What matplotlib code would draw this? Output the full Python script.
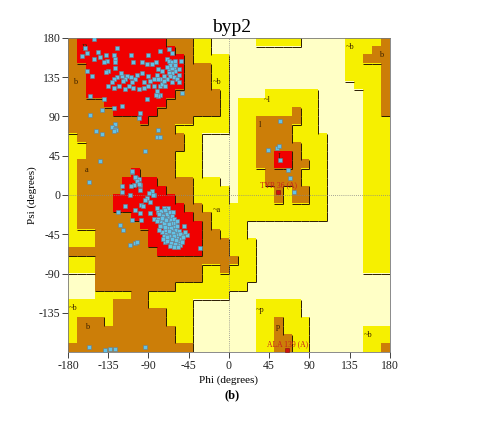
import numpy as np
import matplotlib
matplotlib.use("Agg")
import matplotlib.pyplot as plt
from matplotlib.colors import ListedColormap
from matplotlib.collections import LineCollection

# ---------------- data ----------------
# Ramachandran region map on a 10-degree grid.
# rows: psi from 180 (top) to -180 (bottom); cols: phi from -180 to 180
# '.' disallowed, 'y' generously allowed, 'b' additionally allowed, 'r' core
region_rows = [
    "brrrrrrrrrrbbbyy.." + "...yyyyy.....yyyyb",
    "brrrrrrrrrrrbbyy.." + ".............yyybb",
    "brrrrrrrrrrrrbyyyy" + ".............yybbb",
    "bbrrrrrrrrrrrbbbyy" + ".............yyyyb",
    "bbrrrrrrrrrrrbbbyy" + ".............yyyyb",
    "bbrrrrrrrrrrrbbbyy" + "..............yyyb",
    "bbrrrrrrrrrrbbbbby" + "....yyyyyy.....yyb",
    "bbbbrrrrrrrbbbbbby" + ".yyyyyyyyy.....yyb",
    "bbbbbrrrrrbbbbbbby" + ".yyyyyybyy.....yyb",
    "bbbbbbbbrbbbbbyyyy" + ".yybbbbbyy.....yyy",
    "bbbbbbbbbbbbyyyyyy" + ".yybbbbyyy.....yyy",
    "ybbbbbbbbbbbbyy..." + ".yybbbbyyyy....yyy",
    "yybbbbbbbbbbbyy..." + ".yybbbbbyyy....yyy",
    "yybbbbbbbbbbyyy..." + ".yybbrrbyyy....yyy",
    "ybbbbbbbbbbbyyy..." + ".yybbrrbbyy....yyy",
    "ybbbbbbrbbbbyyy..." + ".yyybbbbyyy....yyy",
    "ybbbbbrrrrbbbbyyy." + ".yyybbbbyyy....yyy",
    "ybbbbbrrrrrbbbyyyy" + ".yyyybybbyy....yyy",
    "ybbbbrrrrrrrbbyyyy" + ".yyyybybbyy....yyy",
    "ybbbbrrrrrrrrbbyyy" + "yyyyyyyyyyy....yyy",
    "ybbbbbbrrrrrrrbbyy" + "yyyyyyyyyyy....yyy",
    "ybbbbbbbrrrrrrrbyy" + "yy.............yyy",
    "yyybbbbbbrrrrrrbby" + "yy.............yyy",
    "yyybbbbbbrrrrrrbbb" + "yyy............yyy",
    "bbbbbbbbbbrrrrrbbb" + "yyy............yyy",
    "yyybbbbbbbbbbbbbbb" + "byy............yyy",
    "yyybbbbbbbbbbbbyyb" + "yyy............yyy",
    "...bbbbbbbbbbbbyyy" + "yyy...............",
    "...bbbbbbbbbyyyyyy" + "yy................",
    "...yyyybbyyyyyyyyy" + "..................",
    "yyyyybbbbyyyyy...." + "...yyyyy..........",
    "yyyyybbbbbbyyy...." + "...yyyyy..........",
    "ybbbybbbbbbyyy...." + "...yybyyy.........",
    "ybbbbbbbbbbbyy...." + "...yybyyy......yyy",
    "ybbbbbbbbbbbyy...." + "...yybbyy......yyy",
    "bbbbbbbbbbbbbb...." + "...yybbyy......yyb",
]
region_colors = ["#FFFFC6", "#F6F000", "#CC7E08", "#F00000"]
region_codes = ".ybr"

# residues (phi, psi) - beta region
beta_phi = [
    -151, -161, -159, -164, -151, -146, -144, -138, -136, -140, -129, -125, -127, -128, -110,
    -107, -97, -90, -77, -67, -64, -69, -67, -64, -60, -82, -92, -86, -62, -60, -56, -64, -67,
    -66, -62, -56, -58, -64, -69, -75, -79, -80, -77, -73, -84, -88, -90, -97, -95, -103, -105,
    -108, -114, -110, -116, -118, -120, -121, -125, -129, -131, -135, -138, -127, -135, -129,
    -123, -116, -112, -107, -101, -95, -90, -84, -80, -77, -75, -71, -77, -79, -82, -92, -120,
    -129, -140, -153, -159, -155, -56, -52, -54, -99, -142, -155, -127, -101, -79, -73, -67,
    -64, -66, -60, -69,
    -149, -142, -131, -128, -126, -129, -79, -81, -77, -94, -144, -157,
]
beta_psi = [
    179, 169, 163, 159, 156, 164, 158, 160, 154, 152, 161, 168, 156, 153, 161,
    152, 152, 161, 165, 167, 163, 156, 154, 152, 154, 152, 150, 150, 146, 142, 144, 140, 140,
    136, 135, 138, 133, 129, 133, 142, 144, 138, 133, 136, 133, 131, 136, 140, 129, 138, 133,
    129, 136, 135, 133, 131, 136, 140, 135, 133, 129, 142, 141, 146, 125, 123,
    125, 121, 125, 123, 121, 123, 125, 125, 119, 125, 127, 125, 115, 114, 115, 110, 102,
    100, 110, 136, 142, 114, 129, 117, 154, 94, 98, 92, 81, 88, 133, 131, 144,
    146, 149, 149, 147,
    73, 70, 78, 76, 75, 73, 75, 67, 66, 50, 39, 15,
]
# alpha region and others
alpha_phi = [
    -108, -104, -101, -99, -106, -120, -120, -111, -86, -84, -92, -94, -88, -98, -96, -116,
    -124, -105, -99, -88, -81, -79, -75, -84, -72, -68, -122, -118, -111, -105, -103, -109,
    -98, -71, -64, -58, -53, -47, -32, -109, -105, -103, -101, -110, -99, -89, -85,
    -76, -73, -70, -74, -78, -68, -72, -76, -66, -70, -74, -64, -68, -72, -62, -66, -70, -60,
    -64, -68, -58, -62, -56, -60, -65, -54, -57, -61, -59, -63, -67, -71, -75, -73, -69, -65,
    -69, -73, -77, -79, -67, -65, -63, -61, -59, -55, -57, -53, -71, -66, -64, -62, -60, -58,
    -56, -55, -67, -69, -64, -70, -75, -80, -78, -74, -66, -61, -52, -58, -63, -50, -49, -51,
    -157, -139, -133, -127, -94,
    57, 44, 54, 56, 57, 66, 68, 73,
]
alpha_psi = [
    26, 20, 18, 12, 12, 10, 4, 0, 5, 0, -4, -6, -8, -11, -13, -13,
    -19, -17, -21, -21, -15, -19, -23, -27, -17, -15, -34, -40, -57, -55, -54, -29,
    -29, -54, -57, -55, -52, -46, -61, 27, 21, 16, 13, 10, 6, 2, 0,
    -18, -15, -20, -24, -22, -25, -28, -30, -30, -33, -35, -35, -38, -40, -40, -42, -45, -44,
    -47, -50, -48, -51, -53, -56, -55, -50, -45, -36, -40, -44, -47, -37, -42, -47, -53, -28,
    -22, -32, -35, -27, -33, -38, -32, -47, -52, -57, -60, -46, -17, -20, -24, -28, -32, -36,
    -41, -45, -41, -48, -51, -29, -26, -30, -40, -51, -58, -60, -54, -30, -20, -35, -42, -48,
    -174, -178, -177, -177, -174,
    85, 52, 54, 56, 40, 29, 19, 3,
]

# labelled residues
res_names = ["TYR 36 (A)", "ALA 139 (A)"]
res_phi = [55, 65]
res_psi = [4, -178]
res_label_phi = [55, 66]
res_label_psi = [11, -171]

# region labels
reg_text = ["B", "b", "~b", "a", "A", "~a", "~b", "b", "~l", "l", "L", "~b", "b", "~p", "p", "~b"]
reg_phi = [-161, -172, -13, -159, -108, -13, -174, -159, 43, 35, 57, 135, 170, 35, 55, 156]
reg_psi = [168, 129, 129, 29, 9, -17, -130, -151, 109, 80, 44, 170, 160, -132, -151, -161]

ticks = [-180, -135, -90, -45, 0, 45, 90, 135, 180]
yticks = [-135, -90, -45, 0, 45, 90, 135, 180]

# ---------------- plot ----------------
serif = ["Liberation Serif", "DejaVu Serif"]
plt.rcParams["font.family"] = serif

fig = plt.figure(figsize=(4.85, 4.24), dpi=100)
ax = fig.add_axes([0.1402, 0.1698, 0.6639, 0.7406])

grid = np.array([[region_codes.index(ch) for ch in row] for row in region_rows])
ax.imshow(grid, cmap=ListedColormap(region_colors), vmin=-0.5, vmax=3.5,
          extent=(-180, 180, -180, 180), origin="upper", aspect="auto",
          interpolation="nearest", zorder=0)

# shadow lines on right/bottom edges of higher-level cells
segs = []
nr, nc = grid.shape
for r in range(nr):
    for c in range(nc):
        x0 = -180 + 10 * c
        ytop = 180 - 10 * r
        if c + 1 < nc and grid[r, c + 1] < grid[r, c]:
            segs.append([(x0 + 10, ytop - 10), (x0 + 10, ytop)])
        if r + 1 < nr and grid[r + 1, c] < grid[r, c]:
            segs.append([(x0, ytop - 10), (x0 + 10, ytop - 10)])
ax.add_collection(LineCollection(segs, colors="#2a1a00", linewidths=0.7, zorder=1))

ax.axhline(0, color="#888888", lw=0.6, ls=(0, (1, 1.5)), zorder=2)
ax.axvline(0, color="#888888", lw=0.6, ls=(0, (1, 1.5)), zorder=2)

for px, py in ((beta_phi, beta_psi), (alpha_phi, alpha_psi)):
    ax.scatter(px, py, marker="s", s=9, facecolor="#62C2E6",
               edgecolor="#6A7C8C", linewidths=0.4, zorder=4)

ax.scatter(res_phi, res_psi, marker="s", s=9, facecolor="#D01010",
           edgecolor="#801010", linewidths=0.4, zorder=5)
for n, x, y in zip(res_names, res_label_phi, res_label_psi):
    ax.text(x, y, n, fontsize=5.5, color="#C81E1E", ha="center", va="center", zorder=6)

for t, x, y in zip(reg_text, reg_phi, reg_psi):
    ax.text(x, y, t, fontsize=6, color="#3a2000", ha="center", va="center", zorder=3)

ax.set_xlim(-180, 180)
ax.set_ylim(-180, 180)
ax.set_xticks(ticks)
ax.set_yticks(yticks)
ax.set_xticklabels([str(t) for t in ticks])
ax.set_yticklabels([str(t) for t in yticks])
ax.tick_params(direction="out", length=4, width=0.6, labelsize=8.5, pad=1.5, colors="#222222")
for s in ax.spines.values():
    s.set_color("#777777")
    s.set_linewidth(0.6)

fig.text(0.478, 0.936, "byp2", fontsize=14, ha="center", va="center")
fig.text(0.472, 0.104, "Phi (degrees)", fontsize=8, ha="center", va="center")
fig.text(0.066, 0.54, "Psi (degrees)", fontsize=8, ha="center", va="center", rotation=90)
fig.text(0.478, 0.068, "(b)", fontsize=9, fontweight="bold", ha="center", va="center")

fig.savefig("out.png", dpi=100)
